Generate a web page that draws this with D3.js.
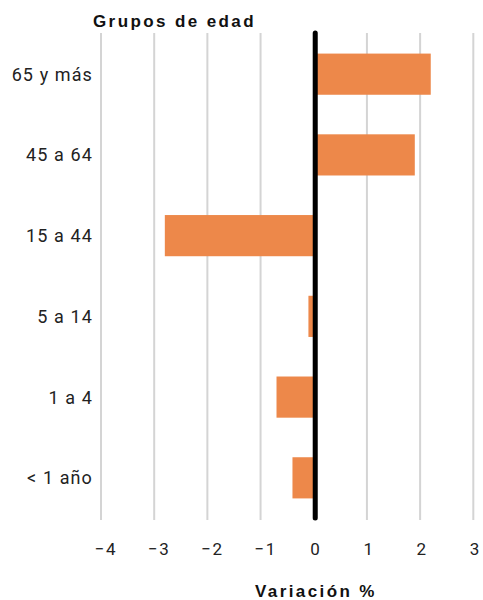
<!DOCTYPE html>
<html>
<head>
<meta charset="utf-8">
<script src="https://cdn.jsdelivr.net/npm/d3@7"></script>
<style>
  html, body { margin: 0; padding: 0; background: #fff; }
  svg { display: block; }
</style>
</head>
<body>
<svg id="chart" width="483" height="600"></svg>
<script>
// Age groups, top to bottom, and their percentage change
const groups = ["65 y más", "45 a 64", "15 a 44", "5 a 14", "1 a 4", "< 1 año"];
const variation = [2.2, 1.9, -2.8, -0.1, -0.7, -0.4];
const xTicks = [-4, -3, -2, -1, 0, 1, 2, 3];
const yTitle = "Grupos de edad";
const xTitle = "Variación %";

const svg = d3.select("#chart");
const barColor = "#ED884A";

const x = d3.scaleLinear().domain([-4, 3]).range([101, 473.3]);
const y = d3.scaleBand().domain(groups).range([33, 519])
  .paddingInner(0.49).paddingOuter(0.255);

// vertical gridlines
svg.append("g").selectAll("line")
  .data(xTicks)
  .join("line")
  .attr("x1", d => x(d)).attr("x2", d => x(d))
  .attr("y1", 33).attr("y2", 520)
  .attr("stroke", "#d4d4d4")
  .attr("stroke-width", 2);

// bars
svg.append("g").selectAll("rect")
  .data(groups.map((g, i) => ({ g, v: variation[i] })))
  .join("rect")
  .attr("x", d => x(Math.min(0, d.v)))
  .attr("width", d => Math.abs(x(d.v) - x(0)))
  .attr("y", d => y(d.g))
  .attr("height", y.bandwidth())
  .attr("fill", barColor);

// zero axis line
svg.append("line")
  .attr("x1", x(0) + 1.5).attr("x2", x(0) + 1.5)
  .attr("y1", 33).attr("y2", 518)
  .attr("stroke", "#000")
  .attr("stroke-width", 5)
  .attr("stroke-linecap", "round");

// category labels
svg.append("g").selectAll("text")
  .data(groups)
  .join("text")
  .attr("x", 93)
  .attr("y", d => y(d) + y.bandwidth() / 2 + 6.5)
  .attr("text-anchor", "end")
  .attr("font-family", "Roboto, sans-serif")
  .attr("font-size", 18)
  .attr("letter-spacing", 1.1)
  .attr("fill", "#222")
  .text(d => d);

// x axis tick labels
const fmt = d => d < 0 ? "\u2212" + Math.abs(d) : String(d);
svg.append("g").selectAll("text")
  .data(xTicks)
  .join("text")
  .attr("x", d => x(d) + (d < 0 ? 5 : 2))
  .attr("y", 555)
  .attr("text-anchor", "middle")
  .attr("font-family", "Roboto, sans-serif")
  .attr("font-size", 17)
  .attr("letter-spacing", 1.5)
  .attr("fill", "#222")
  .text(fmt);

// titles
svg.append("text")
  .attr("x", 93).attr("y", 27)
  .attr("font-family", "'Liberation Sans', Arial, sans-serif")
  .attr("font-weight", "bold")
  .attr("font-size", 17)
  .attr("letter-spacing", 2.4)
  .attr("fill", "#111")
  .text(yTitle);

svg.append("text")
  .attr("x", 255).attr("y", 597)
  .attr("font-family", "'Liberation Sans', Arial, sans-serif")
  .attr("font-weight", "bold")
  .attr("font-size", 17)
  .attr("letter-spacing", 2.4)
  .attr("fill", "#111")
  .text(xTitle);
</script>
</body>
</html>
